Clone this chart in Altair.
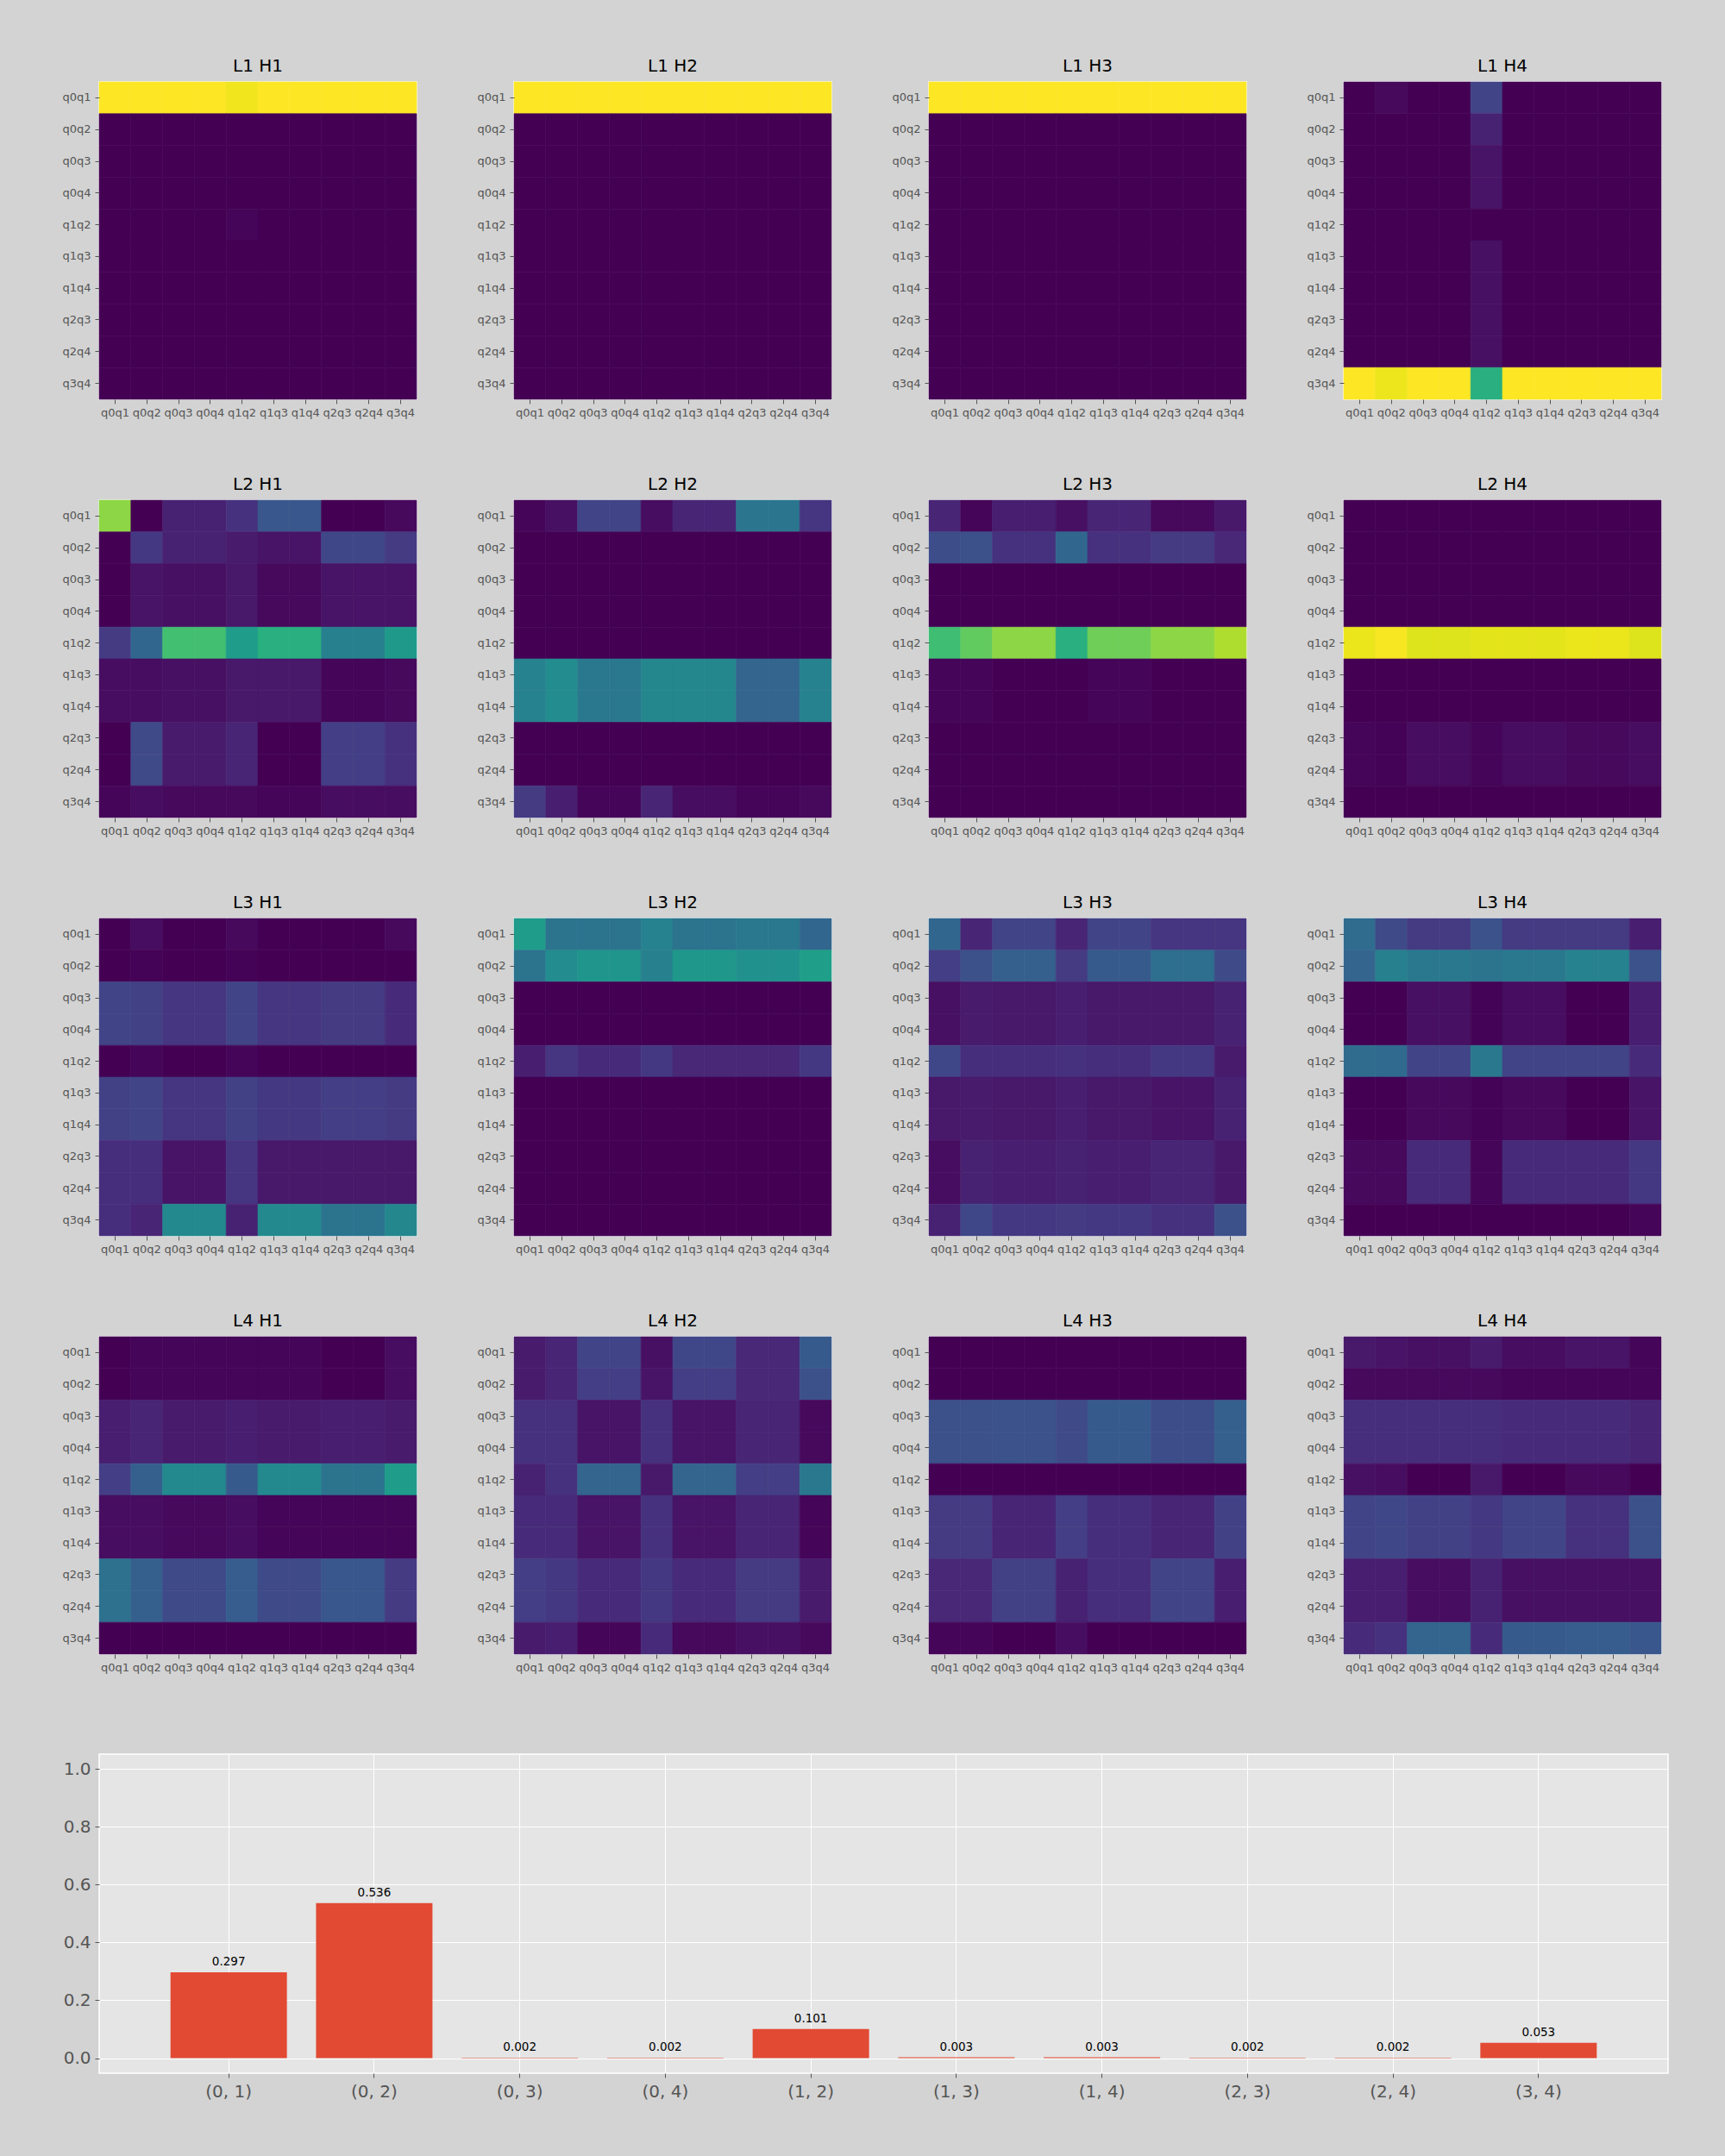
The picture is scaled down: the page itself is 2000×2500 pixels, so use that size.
import altair as alt
import pandas as pd
import jinja2

PAIRS = ["q0q1", "q0q2", "q0q3", "q0q4", "q1q2", "q1q3", "q1q4", "q2q3", "q2q4", "q3q4"]

L1_H1 = [
    [1, 1, 1, 1, 0.98, 1, 1, 1, 1, 1],
    [0, 0, 0, 0, 0, 0, 0, 0, 0, 0],
    [0, 0, 0, 0, 0, 0, 0, 0, 0, 0],
    [0, 0, 0, 0, 0, 0, 0, 0, 0, 0],
    [0, 0, 0, 0, 0.01, 0, 0, 0, 0, 0],
    [0, 0, 0, 0, 0, 0, 0, 0, 0, 0],
    [0, 0, 0, 0, 0, 0, 0, 0, 0, 0],
    [0, 0, 0, 0, 0, 0, 0, 0, 0, 0],
    [0, 0, 0, 0, 0, 0, 0, 0, 0, 0],
    [0, 0, 0, 0, 0, 0, 0, 0, 0, 0],
]
L1_H2 = [
    [1, 1, 1, 1, 1, 1, 1, 1, 1, 1],
    [0, 0, 0, 0, 0, 0, 0, 0, 0, 0],
    [0, 0, 0, 0, 0, 0, 0, 0, 0, 0],
    [0, 0, 0, 0, 0, 0, 0, 0, 0, 0],
    [0, 0, 0, 0, 0, 0, 0, 0, 0, 0],
    [0, 0, 0, 0, 0, 0, 0, 0, 0, 0],
    [0, 0, 0, 0, 0, 0, 0, 0, 0, 0],
    [0, 0, 0, 0, 0, 0, 0, 0, 0, 0],
    [0, 0, 0, 0, 0, 0, 0, 0, 0, 0],
    [0, 0, 0, 0, 0, 0, 0, 0, 0, 0],
]
L1_H3 = [
    [1, 1, 1, 1, 1, 1, 1, 1, 1, 1],
    [0, 0, 0, 0, 0, 0, 0, 0, 0, 0],
    [0, 0, 0, 0, 0, 0, 0, 0, 0, 0],
    [0, 0, 0, 0, 0, 0, 0, 0, 0, 0],
    [0, 0, 0, 0, 0, 0, 0, 0, 0, 0],
    [0, 0, 0, 0, 0, 0, 0, 0, 0, 0],
    [0, 0, 0, 0, 0, 0, 0, 0, 0, 0],
    [0, 0, 0, 0, 0, 0, 0, 0, 0, 0],
    [0, 0, 0, 0, 0, 0, 0, 0, 0, 0],
    [0, 0, 0, 0, 0, 0, 0, 0, 0, 0],
]
L1_H4 = [
    [0, 0.02, 0, 0, 0.2, 0, 0, 0, 0, 0],
    [0, 0, 0, 0, 0.09, 0, 0, 0, 0, 0],
    [0, 0, 0, 0, 0.05, 0, 0, 0, 0, 0],
    [0, 0, 0, 0, 0.05, 0, 0, 0, 0, 0],
    [0, 0, 0, 0, 0, 0, 0, 0, 0, 0],
    [0, 0, 0, 0, 0.04, 0, 0, 0, 0, 0],
    [0, 0, 0, 0, 0.04, 0, 0, 0, 0, 0],
    [0, 0, 0, 0, 0.04, 0, 0, 0, 0, 0],
    [0, 0, 0, 0, 0.04, 0, 0, 0, 0, 0],
    [1, 0.975, 1, 1, 0.63, 1, 1, 1, 1, 1],
]
L2_H1 = [
    [0.83, 0, 0.09, 0.09, 0.14, 0.27, 0.27, 0, 0, 0.02],
    [0, 0.16, 0.09, 0.09, 0.07, 0.05, 0.05, 0.21, 0.21, 0.17],
    [0, 0.05, 0.04, 0.04, 0.06, 0.02, 0.02, 0.05, 0.05, 0.05],
    [0, 0.05, 0.04, 0.04, 0.06, 0.02, 0.02, 0.05, 0.05, 0.05],
    [0.17, 0.33, 0.7, 0.7, 0.55, 0.63, 0.63, 0.43, 0.43, 0.54],
    [0.03, 0.03, 0.04, 0.04, 0.06, 0.06, 0.06, 0.01, 0.01, 0.02],
    [0.03, 0.03, 0.04, 0.04, 0.06, 0.06, 0.06, 0.01, 0.01, 0.02],
    [0, 0.22, 0.07, 0.07, 0.1, 0, 0, 0.18, 0.18, 0.14],
    [0, 0.22, 0.07, 0.07, 0.1, 0, 0, 0.18, 0.18, 0.14],
    [0.01, 0.03, 0.02, 0.02, 0.02, 0.01, 0.01, 0.03, 0.03, 0.03],
]
L2_H2 = [
    [0.01, 0.04, 0.2, 0.2, 0.03, 0.1, 0.1, 0.39, 0.39, 0.15],
    [0, 0, 0, 0, 0, 0, 0, 0, 0, 0],
    [0, 0, 0, 0, 0, 0, 0, 0, 0, 0],
    [0, 0, 0, 0, 0, 0, 0, 0, 0, 0],
    [0, 0, 0, 0, 0, 0, 0, 0, 0, 0],
    [0.44, 0.48, 0.4, 0.4, 0.46, 0.46, 0.46, 0.32, 0.32, 0.44],
    [0.44, 0.48, 0.4, 0.4, 0.46, 0.46, 0.46, 0.32, 0.32, 0.44],
    [0, 0, 0, 0, 0, 0, 0, 0, 0, 0],
    [0, 0, 0, 0, 0, 0, 0, 0, 0, 0],
    [0.17, 0.08, 0.01, 0.01, 0.1, 0.03, 0.03, 0.01, 0.01, 0.02],
]
L2_H3 = [
    [0.1, 0.01, 0.08, 0.08, 0.04, 0.1, 0.1, 0.02, 0.02, 0.06],
    [0.23, 0.24, 0.14, 0.14, 0.33, 0.14, 0.14, 0.17, 0.17, 0.11],
    [0, 0, 0, 0, 0, 0, 0, 0, 0, 0],
    [0, 0, 0, 0, 0, 0, 0, 0, 0, 0],
    [0.69, 0.76, 0.83, 0.83, 0.63, 0.78, 0.78, 0.83, 0.83, 0.88],
    [0.01, 0.01, 0, 0, 0, 0.01, 0.01, 0, 0, 0],
    [0.01, 0.01, 0, 0, 0, 0.01, 0.01, 0, 0, 0],
    [0, 0, 0, 0, 0, 0, 0, 0, 0, 0],
    [0, 0, 0, 0, 0, 0, 0, 0, 0, 0],
    [0, 0, 0, 0, 0, 0, 0, 0, 0, 0],
]
L2_H4 = [
    [0, 0, 0, 0, 0, 0, 0, 0, 0, 0],
    [0, 0, 0, 0, 0, 0, 0, 0, 0, 0],
    [0, 0, 0, 0, 0, 0, 0, 0, 0, 0],
    [0, 0, 0, 0, 0, 0, 0, 0, 0, 0],
    [0.97, 0.99, 0.95, 0.95, 0.96, 0.96, 0.96, 0.97, 0.97, 0.95],
    [0, 0, 0, 0, 0, 0, 0, 0, 0, 0],
    [0, 0, 0, 0, 0, 0, 0, 0, 0, 0],
    [0.01, 0.005, 0.03, 0.03, 0.01, 0.03, 0.03, 0.02, 0.02, 0.03],
    [0.01, 0.005, 0.03, 0.03, 0.01, 0.03, 0.03, 0.02, 0.02, 0.03],
    [0, 0, 0, 0, 0, 0, 0, 0, 0, 0],
]
L3_H1 = [
    [0, 0.03, 0, 0, 0.02, 0, 0, 0, 0, 0.02],
    [0, 0.005, 0, 0, 0.005, 0, 0, 0, 0, 0],
    [0.2, 0.19, 0.15, 0.15, 0.2, 0.15, 0.15, 0.17, 0.17, 0.12],
    [0.2, 0.19, 0.15, 0.15, 0.2, 0.15, 0.15, 0.17, 0.17, 0.12],
    [0, 0.01, 0, 0, 0.01, 0, 0, 0, 0, 0],
    [0.19, 0.2, 0.15, 0.15, 0.19, 0.16, 0.16, 0.18, 0.18, 0.17],
    [0.19, 0.2, 0.15, 0.15, 0.19, 0.16, 0.16, 0.18, 0.18, 0.17],
    [0.13, 0.13, 0.05, 0.05, 0.15, 0.06, 0.06, 0.06, 0.06, 0.06],
    [0.13, 0.13, 0.05, 0.05, 0.15, 0.06, 0.06, 0.06, 0.06, 0.06],
    [0.13, 0.1, 0.47, 0.47, 0.09, 0.47, 0.47, 0.38, 0.38, 0.46],
]
L3_H2 = [
    [0.55, 0.38, 0.38, 0.38, 0.44, 0.38, 0.38, 0.4, 0.4, 0.33],
    [0.38, 0.48, 0.52, 0.52, 0.43, 0.53, 0.53, 0.5, 0.5, 0.56],
    [0, 0, 0, 0, 0, 0, 0, 0, 0, 0],
    [0, 0, 0, 0, 0, 0, 0, 0, 0, 0],
    [0.08, 0.15, 0.12, 0.12, 0.16, 0.11, 0.11, 0.11, 0.11, 0.16],
    [0, 0, 0, 0, 0, 0, 0, 0, 0, 0],
    [0, 0, 0, 0, 0, 0, 0, 0, 0, 0],
    [0, 0, 0, 0, 0, 0, 0, 0, 0, 0],
    [0, 0, 0, 0, 0, 0, 0, 0, 0, 0],
    [0, 0, 0, 0, 0, 0, 0, 0, 0, 0],
]
L3_H3 = [
    [0.33, 0.1, 0.2, 0.2, 0.1, 0.2, 0.2, 0.15, 0.15, 0.15],
    [0.18, 0.24, 0.3, 0.3, 0.17, 0.28, 0.28, 0.36, 0.36, 0.22],
    [0.04, 0.07, 0.06, 0.06, 0.08, 0.06, 0.06, 0.06, 0.06, 0.09],
    [0.04, 0.07, 0.06, 0.06, 0.08, 0.06, 0.06, 0.06, 0.06, 0.09],
    [0.21, 0.13, 0.13, 0.13, 0.14, 0.13, 0.13, 0.16, 0.16, 0.07],
    [0.06, 0.07, 0.06, 0.06, 0.08, 0.06, 0.06, 0.05, 0.05, 0.09],
    [0.06, 0.07, 0.06, 0.06, 0.08, 0.06, 0.06, 0.05, 0.05, 0.09],
    [0.03, 0.09, 0.08, 0.08, 0.09, 0.08, 0.08, 0.1, 0.1, 0.06],
    [0.03, 0.09, 0.08, 0.08, 0.09, 0.08, 0.08, 0.1, 0.1, 0.06],
    [0.09, 0.21, 0.16, 0.16, 0.17, 0.16, 0.16, 0.14, 0.14, 0.24],
]
L3_H4 = [
    [0.35, 0.22, 0.17, 0.17, 0.25, 0.17, 0.17, 0.17, 0.17, 0.08],
    [0.32, 0.43, 0.4, 0.4, 0.38, 0.4, 0.4, 0.44, 0.44, 0.25],
    [0, 0, 0.04, 0.04, 0.005, 0.03, 0.03, 0, 0, 0.08],
    [0, 0, 0.04, 0.04, 0.005, 0.03, 0.03, 0, 0, 0.08],
    [0.35, 0.34, 0.2, 0.2, 0.4, 0.2, 0.2, 0.2, 0.2, 0.12],
    [0, 0, 0.02, 0.02, 0.005, 0.02, 0.02, 0, 0, 0.05],
    [0, 0, 0.02, 0.02, 0.005, 0.02, 0.02, 0, 0, 0.05],
    [0.02, 0.02, 0.12, 0.12, 0.01, 0.12, 0.12, 0.12, 0.12, 0.16],
    [0.02, 0.02, 0.12, 0.12, 0.01, 0.12, 0.12, 0.12, 0.12, 0.16],
    [0, 0, 0, 0, 0, 0, 0, 0, 0, 0.01],
]
L4_H1 = [
    [0, 0.01, 0.01, 0.01, 0.01, 0.01, 0.01, 0, 0, 0.03],
    [0, 0.01, 0.01, 0.01, 0.01, 0.01, 0.01, 0, 0, 0.03],
    [0.08, 0.1, 0.07, 0.07, 0.08, 0.07, 0.07, 0.08, 0.08, 0.07],
    [0.08, 0.1, 0.07, 0.07, 0.08, 0.07, 0.07, 0.08, 0.08, 0.07],
    [0.18, 0.3, 0.47, 0.47, 0.28, 0.47, 0.47, 0.38, 0.38, 0.55],
    [0.03, 0.03, 0.02, 0.02, 0.03, 0.01, 0.01, 0.01, 0.01, 0.01],
    [0.03, 0.03, 0.02, 0.02, 0.03, 0.01, 0.01, 0.01, 0.01, 0.01],
    [0.37, 0.3, 0.22, 0.22, 0.29, 0.22, 0.22, 0.27, 0.27, 0.17],
    [0.37, 0.3, 0.22, 0.22, 0.29, 0.22, 0.22, 0.27, 0.27, 0.17],
    [0, 0, 0, 0, 0, 0, 0, 0, 0, 0],
]
L4_H2 = [
    [0.07, 0.1, 0.2, 0.2, 0.04, 0.21, 0.21, 0.11, 0.11, 0.28],
    [0.07, 0.1, 0.18, 0.18, 0.05, 0.18, 0.18, 0.11, 0.11, 0.24],
    [0.14, 0.14, 0.05, 0.05, 0.14, 0.05, 0.05, 0.1, 0.1, 0.02],
    [0.14, 0.14, 0.05, 0.05, 0.14, 0.05, 0.05, 0.1, 0.1, 0.02],
    [0.09, 0.14, 0.32, 0.32, 0.06, 0.32, 0.32, 0.18, 0.18, 0.4],
    [0.12, 0.12, 0.05, 0.05, 0.14, 0.05, 0.05, 0.1, 0.1, 0.01],
    [0.12, 0.12, 0.05, 0.05, 0.14, 0.05, 0.05, 0.1, 0.1, 0.01],
    [0.18, 0.16, 0.12, 0.12, 0.16, 0.12, 0.12, 0.17, 0.17, 0.07],
    [0.18, 0.16, 0.12, 0.12, 0.16, 0.12, 0.12, 0.17, 0.17, 0.07],
    [0.07, 0.08, 0.01, 0.01, 0.12, 0.02, 0.02, 0.04, 0.04, 0.02],
]
L4_H3 = [
    [0, 0, 0, 0, 0, 0, 0, 0, 0, 0],
    [0, 0, 0, 0, 0, 0, 0, 0, 0, 0],
    [0.24, 0.24, 0.25, 0.25, 0.22, 0.28, 0.28, 0.23, 0.23, 0.3],
    [0.24, 0.24, 0.25, 0.25, 0.22, 0.28, 0.28, 0.23, 0.23, 0.3],
    [0, 0, 0, 0, 0, 0, 0, 0, 0, 0],
    [0.17, 0.17, 0.1, 0.1, 0.18, 0.13, 0.13, 0.1, 0.1, 0.19],
    [0.17, 0.17, 0.1, 0.1, 0.18, 0.13, 0.13, 0.1, 0.1, 0.19],
    [0.11, 0.11, 0.19, 0.19, 0.09, 0.13, 0.13, 0.2, 0.2, 0.08],
    [0.11, 0.11, 0.19, 0.19, 0.09, 0.13, 0.13, 0.2, 0.2, 0.08],
    [0.01, 0.01, 0, 0, 0.03, 0, 0, 0, 0, 0],
]
L4_H4 = [
    [0.06, 0.05, 0.04, 0.04, 0.07, 0.03, 0.03, 0.05, 0.05, 0.01],
    [0.02, 0.02, 0.02, 0.02, 0.02, 0.01, 0.01, 0.01, 0.01, 0.01],
    [0.13, 0.13, 0.13, 0.13, 0.13, 0.12, 0.12, 0.12, 0.12, 0.1],
    [0.13, 0.13, 0.13, 0.13, 0.13, 0.12, 0.12, 0.12, 0.12, 0.1],
    [0.04, 0.03, 0, 0, 0.06, 0, 0, 0.02, 0.02, 0],
    [0.2, 0.21, 0.19, 0.19, 0.16, 0.2, 0.2, 0.14, 0.14, 0.24],
    [0.2, 0.21, 0.19, 0.19, 0.16, 0.2, 0.2, 0.14, 0.14, 0.24],
    [0.08, 0.08, 0.03, 0.03, 0.09, 0.04, 0.04, 0.04, 0.04, 0.04],
    [0.08, 0.08, 0.03, 0.03, 0.09, 0.04, 0.04, 0.04, 0.04, 0.04],
    [0.12, 0.14, 0.32, 0.32, 0.12, 0.28, 0.28, 0.29, 0.29, 0.27],
]

GRID = [
    [("L1 H1", L1_H1), ("L1 H2", L1_H2), ("L1 H3", L1_H3), ("L1 H4", L1_H4)],
    [("L2 H1", L2_H1), ("L2 H2", L2_H2), ("L2 H3", L2_H3), ("L2 H4", L2_H4)],
    [("L3 H1", L3_H1), ("L3 H2", L3_H2), ("L3 H3", L3_H3), ("L3 H4", L3_H4)],
    [("L4 H1", L4_H1), ("L4 H2", L4_H2), ("L4 H3", L4_H3), ("L4 H4", L4_H4)],
]

BAR_LABELS = ["(0, 1)", "(0, 2)", "(0, 3)", "(0, 4)", "(1, 2)", "(1, 3)", "(1, 4)", "(2, 3)", "(2, 4)", "(3, 4)"]
BAR_VALUES = [0.297, 0.536, 0.002, 0.002, 0.101, 0.003, 0.003, 0.002, 0.002, 0.053]

FONT = "DejaVu Sans"
TICK_GRAY = "#555555"
BG = "#d3d3d3"

HM_SIZE = 368
Y_EXT = 45
X_EXT = 30
BAR_Y_EXT = 43


def heatmap(title, mat):
    recs = []
    for i, rname in enumerate(PAIRS):
        for j, cname in enumerate(PAIRS):
            recs.append({"row": rname, "col": cname, "v": mat[i][j]})
    df = pd.DataFrame(recs)
    cscale = alt.Scale(scheme="viridis", domain=[0, 1])
    return (
        alt.Chart(
            df,
            title=alt.Title(title, fontSize=20, font=FONT, fontWeight="normal",
                            color="black", offset=8),
        )
        .mark_rect(strokeWidth=0.6)
        .encode(
            x=alt.X("col:N", sort=PAIRS, title=None,
                    scale=alt.Scale(paddingInner=0, paddingOuter=0),
                    axis=alt.Axis(labelAngle=0, labelFontSize=13, labelFont=FONT,
                                  labelColor=TICK_GRAY, tickColor=TICK_GRAY, tickSize=5,
                                  labelPadding=4, domain=False, grid=False,
                                  labelOverlap=False, minExtent=X_EXT, maxExtent=X_EXT)),
            y=alt.Y("row:N", sort=PAIRS, title=None,
                    scale=alt.Scale(paddingInner=0, paddingOuter=0),
                    axis=alt.Axis(labelFontSize=13, labelFont=FONT,
                                  labelColor=TICK_GRAY, tickColor=TICK_GRAY, tickSize=5,
                                  labelPadding=5, domain=False, grid=False,
                                  labelOverlap=False, minExtent=Y_EXT, maxExtent=Y_EXT)),
            color=alt.Color("v:Q", scale=cscale, legend=None),
            stroke=alt.Color("v:Q", scale=cscale, legend=None),
        )
        .properties(width=HM_SIZE, height=HM_SIZE,
                    view=alt.ViewBackground(stroke="white", strokeWidth=1.5))
    )


rows = [alt.hconcat(*[heatmap(t, m) for t, m in row], spacing=65) for row in GRID]
heat_grid = alt.vconcat(*rows, spacing=56)

bar_df = pd.DataFrame({"pair": BAR_LABELS, "value": BAR_VALUES})
xenc = alt.X("pair:N", sort=BAR_LABELS, title=None,
             scale=alt.Scale(paddingInner=0.2, paddingOuter=0.49),
             axis=alt.Axis(labelAngle=0, labelFontSize=20, labelFont=FONT,
                           labelColor=TICK_GRAY, tickColor=TICK_GRAY, tickSize=5,
                           labelPadding=6, domain=False, grid=True, gridColor="white",
                           gridWidth=1, bandPosition=0.5))
yscale = alt.Scale(domain=[-0.052, 1.051], nice=False, zero=False)
bars = alt.Chart(bar_df).mark_bar(color="#E24A33").encode(
    x=xenc,
    y=alt.Y("value:Q", scale=yscale, title=None,
            axis=alt.Axis(values=[0, 0.2, 0.4, 0.6, 0.8, 1.0], format=".1f",
                          labelFontSize=20, labelFont=FONT, labelColor=TICK_GRAY,
                          tickColor=TICK_GRAY, tickSize=5, labelPadding=5,
                          domain=False, grid=True, gridColor="white", gridWidth=1.2,
                          minExtent=BAR_Y_EXT, maxExtent=BAR_Y_EXT)),
    y2=alt.datum(0),
)
labels = alt.Chart(bar_df).mark_text(baseline="bottom", dy=-5, fontSize=13.5,
                                      font=FONT, color="black").encode(
    x=alt.X("pair:N", sort=BAR_LABELS),
    y=alt.Y("value:Q", scale=yscale),
    text=alt.Text("value:Q", format=".3f"),
)
bar_chart = alt.layer(bars, labels).properties(
    width=1819, height=370,
    view=alt.ViewBackground(fill="#E5E5E5", stroke="white", strokeWidth=1.5),
)

chart = (
    alt.vconcat(heat_grid, bar_chart, spacing=84)
    .properties(background=BG,
                padding={"left": 61, "top": 57, "right": 40, "bottom": 40})
    .configure_view(stroke="white")
)

EMBED = {"renderer": "svg", "actions": False}
page = chart.to_html(embed_options=EMBED)
page = page.replace("<head>", "<head>\n<style>html, body { background-color: #d3d3d3; }</style>", 1)
page_template = jinja2.Template("{% raw %}" + page + "{% endraw %}")

chart.save("out.html", embed_options=EMBED, template=page_template)
